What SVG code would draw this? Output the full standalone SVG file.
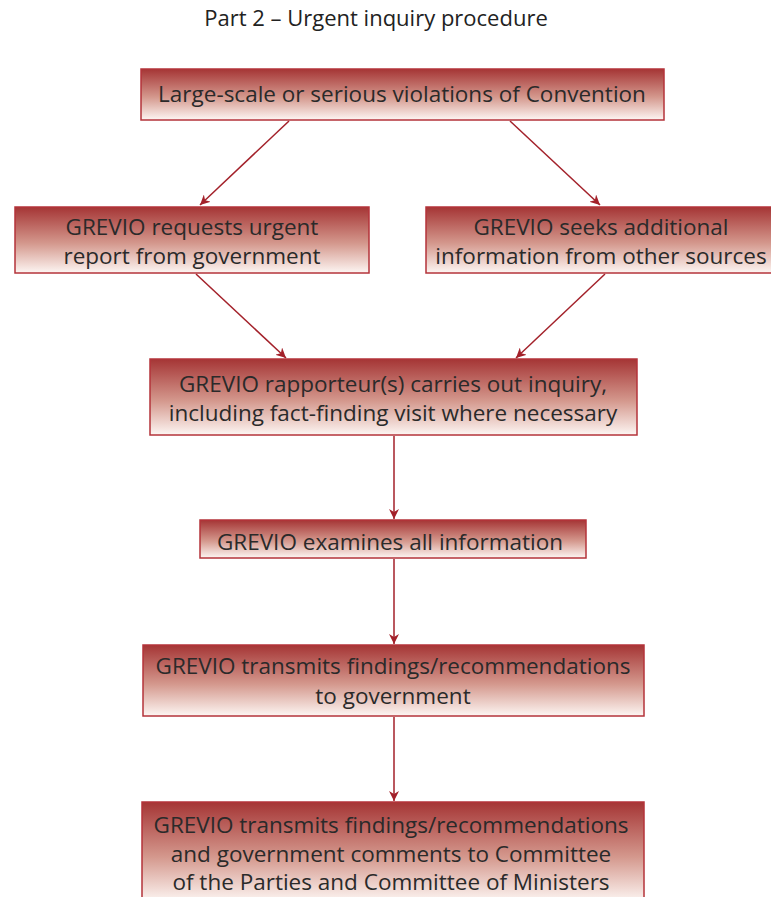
<svg xmlns="http://www.w3.org/2000/svg" width="771" height="897" viewBox="0 0 771 897">
<defs>
<linearGradient id="g" x1="0" y1="0" x2="0" y2="1">
<stop offset="0" stop-color="#a53535"/>
<stop offset="0.55" stop-color="#d4988d"/>
<stop offset="1" stop-color="#fdf6f3"/>
</linearGradient>
<marker id="ah" viewBox="0 0 10 10" refX="10" refY="5" markerWidth="10" markerHeight="10" markerUnits="userSpaceOnUse" orient="auto">
<path d="M0,0 L10,5 L0,10 L3,5 Z" fill="#a3212a"/>
</marker>
<style>
.box{fill:url(#g);stroke:#b4333a;stroke-width:1.5}
.t{font-family:"Open Sans","Noto Sans",sans-serif;font-size:22.5px;fill:#2a2a2a;text-anchor:middle}
.title{font-family:"Open Sans","Noto Sans",sans-serif;font-size:22px;fill:#222;text-anchor:middle}
.c{stroke:#a3212a;stroke-width:1.5;fill:none;marker-end:url(#ah)}
</style>
</defs>
<rect width="771" height="897" fill="#fff"/>
<text class="title" x="376" y="26">Part 2 – Urgent inquiry procedure</text>
<g id="connectors">
<line class="c" x1="289" y1="121" x2="200" y2="205"/>
<line class="c" x1="510" y1="121" x2="600" y2="205"/>
<line class="c" x1="196" y1="274" x2="286" y2="358"/>
<line class="c" x1="605" y1="274" x2="516" y2="358"/>
<line class="c" x1="394" y1="436" x2="394" y2="519"/>
<line class="c" x1="394" y1="559" x2="394" y2="644"/>
<line class="c" x1="394" y1="717" x2="394" y2="801"/>
</g>
<g id="n1"><rect class="box" x="141" y="69" width="523" height="51"/>
<text class="t" x="402" y="102">Large-scale or serious violations of Convention</text></g>
<g id="n2"><rect class="box" x="15" y="207" width="354" height="66"/>
<text class="t" x="192" y="235">GREVIO requests urgent</text>
<text class="t" x="192" y="264">report from government</text></g>
<g id="n3"><rect class="box" x="426" y="207" width="346" height="66"/>
<text class="t" x="601" y="235">GREVIO seeks additional</text>
<text class="t" x="601" y="264">information from other sources</text></g>
<g id="n4"><rect class="box" x="150" y="359" width="487" height="76"/>
<text class="t" x="393" y="392">GREVIO rapporteur(s) carries out inquiry,</text>
<text class="t" x="393" y="421">including fact-finding visit where necessary</text></g>
<g id="n5"><rect class="box" x="200" y="520" width="386" height="38"/>
<text class="t" x="390" y="550">GREVIO examines all information</text></g>
<g id="n6"><rect class="box" x="143" y="645" width="501" height="71"/>
<text class="t" x="393" y="674">GREVIO transmits findings/recommendations</text>
<text class="t" x="393" y="704">to government</text></g>
<g id="n7"><rect class="box" x="142" y="802" width="502" height="100"/>
<text class="t" x="391" y="833">GREVIO transmits findings/recommendations</text>
<text class="t" x="391" y="862">and government comments to Committee</text>
<text class="t" x="391" y="890">of the Parties and Committee of Ministers</text></g>
</svg>
